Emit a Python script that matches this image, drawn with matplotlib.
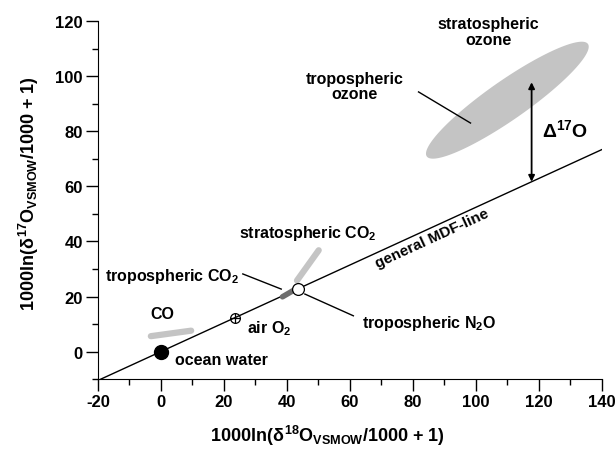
import numpy as np
import matplotlib
matplotlib.use("Agg")
import matplotlib.pyplot as plt
from matplotlib.ticker import MultipleLocator

plt.rcParams['font.family'] = ['Liberation Sans', 'DejaVu Sans']
plt.rcParams['font.weight'] = 'bold'
plt.rcParams['axes.unicode_minus'] = False
plt.rcParams['mathtext.fontset'] = 'custom'
plt.rcParams['mathtext.rm'] = 'Liberation Sans:bold'
plt.rcParams['mathtext.it'] = 'Liberation Sans:bold'
plt.rcParams['mathtext.bf'] = 'Liberation Sans:bold'

# ---- data ----
mdf_slope = 0.524
mdf_x = [-20, 140]
ocean_water = [0.0, 0.0]
air_O2 = [23.4, 12.3]
trop_N2O = [43.6, 22.9]
co_x = [-3.2, 9.6]
co_y = [5.6, 7.6]
strat_co2_x = [43.2, 50.1]
strat_co2_y = [25.8, 36.8]
trop_co2_x = [38.6, 42.5]
trop_co2_y = [19.9, 22.5]
ozone_center = [110.0, 91.3]
ozone_major = [25.6, 20.4]
ozone_minor = [3.5, -5.9]
delta_x = 117.7
delta_top = 97.8
xticks = [-20, 0, 20, 40, 60, 80, 100, 120, 140]
yticks = [0, 20, 40, 60, 80, 100, 120]

fig = plt.figure(figsize=(6.16, 4.52), dpi=100)
ax = fig.add_axes([0.159, 0.159, 0.818, 0.792])

# ozone ellipse
t = np.linspace(0, 2 * np.pi, 200)
ex = ozone_center[0] + np.cos(t) * ozone_major[0] + np.sin(t) * ozone_minor[0]
ey = ozone_center[1] + np.cos(t) * ozone_major[1] + np.sin(t) * ozone_minor[1]
ax.fill(ex, ey, color='#c4c4c4', lw=0, zorder=1)

# MDF line
mx = np.array(mdf_x)
ax.plot(mx, mdf_slope * mx, color='black', lw=1.0, zorder=2)

# gray bars
ax.plot(co_x, co_y, color='#c4c4c4', lw=4.5, solid_capstyle='round', zorder=3)
ax.plot(strat_co2_x, strat_co2_y, color='#c4c4c4', lw=4.5, solid_capstyle='round', zorder=3)
ax.plot(trop_co2_x, trop_co2_y, color='#6e6e6e', lw=4.0, solid_capstyle='round', zorder=4)

# markers
ax.plot(*ocean_water, 'o', color='black', ms=10, zorder=5)
ax.plot(*air_O2, 'o', mfc='none', mec='black', mew=0.9, ms=7, zorder=5)
ax.plot(*air_O2, '+', color='black', mew=0.9, ms=7, zorder=5)
ax.plot(*trop_N2O, 'o', mfc='white', mec='black', mew=0.9, ms=8.5, zorder=5)

# delta arrow
ax.annotate('', xy=(delta_x, delta_top), xytext=(delta_x, mdf_slope * delta_x),
            arrowprops=dict(arrowstyle='<|-|>', color='black', lw=1.3,
                            mutation_scale=9, shrinkA=0, shrinkB=0), zorder=6)
ax.text(121, 80.8, r'$\Delta^{17}$O', fontsize=14, fontweight='bold', va='center', ha='left')

# leader lines
ax.plot([81.8, 98.3], [94.3, 83.0], color='black', lw=1.0, zorder=6)
ax.plot([26.0, 38.2], [28.2, 22.7], color='black', lw=1.0, zorder=6)
ax.plot([45.7, 61.1], [20.9, 13.0], color='black', lw=1.0, zorder=6)

fs = 11.5
ax.text(61.6, 96.4, 'tropospheric\nozone', fontsize=fs, ha='center', va='center', linespacing=1.05)
ax.text(104, 116.3, 'stratospheric\nozone', fontsize=fs, ha='center', va='center', linespacing=1.05)
ax.text(46.8, 43.4, r'stratospheric CO$_2$', fontsize=fs, ha='center', va='center')
ax.text(-17.7, 27.5, r'tropospheric CO$_2$', fontsize=fs, ha='left', va='center')
ax.text(63.9, 10.7, r'tropospheric N$_2$O', fontsize=fs, ha='left', va='center')
ax.text(0.4, 13.7, 'CO', fontsize=fs, ha='center', va='center')
ax.text(27.2, 8.8, r'air O$_2$', fontsize=fs, ha='left', va='center')
ax.text(4.4, -3.0, 'ocean water', fontsize=fs, ha='left', va='center')
ax.text(86.2, 41.2, 'general MDF-line', fontsize=11, ha='center', va='center',
        rotation=24.7, rotation_mode='anchor')

ax.set_xlim(-20, 140)
ax.set_ylim(-10, 120)
ax.set_xticks(xticks)
ax.set_yticks(yticks)
ax.xaxis.set_minor_locator(MultipleLocator(10))
ax.yaxis.set_minor_locator(MultipleLocator(10))
ax.set_xticklabels([str(v) for v in xticks], fontweight='bold', fontsize=12)
ax.set_yticklabels([str(v) for v in yticks], fontweight='bold', fontsize=12)
ax.spines['top'].set_visible(False)
ax.spines['right'].set_visible(False)
ax.tick_params(which='major', direction='out', length=8.5, width=1, pad=2.5)
ax.tick_params(which='minor', direction='out', length=4, width=1)

ax.set_xlabel(r'1000ln($\delta^{18}$O$_{VSMOW}$/1000 + 1)', fontsize=13, fontweight='bold', va='center')
ax.xaxis.set_label_coords(0.455, -0.157)
ax.set_ylabel(r'1000ln($\delta^{17}$O$_{VSMOW}$/1000 + 1)', fontsize=13, fontweight='bold', va='center')
ax.yaxis.set_label_coords(-0.137, 0.522)

fig.savefig('out.png', dpi=100)
